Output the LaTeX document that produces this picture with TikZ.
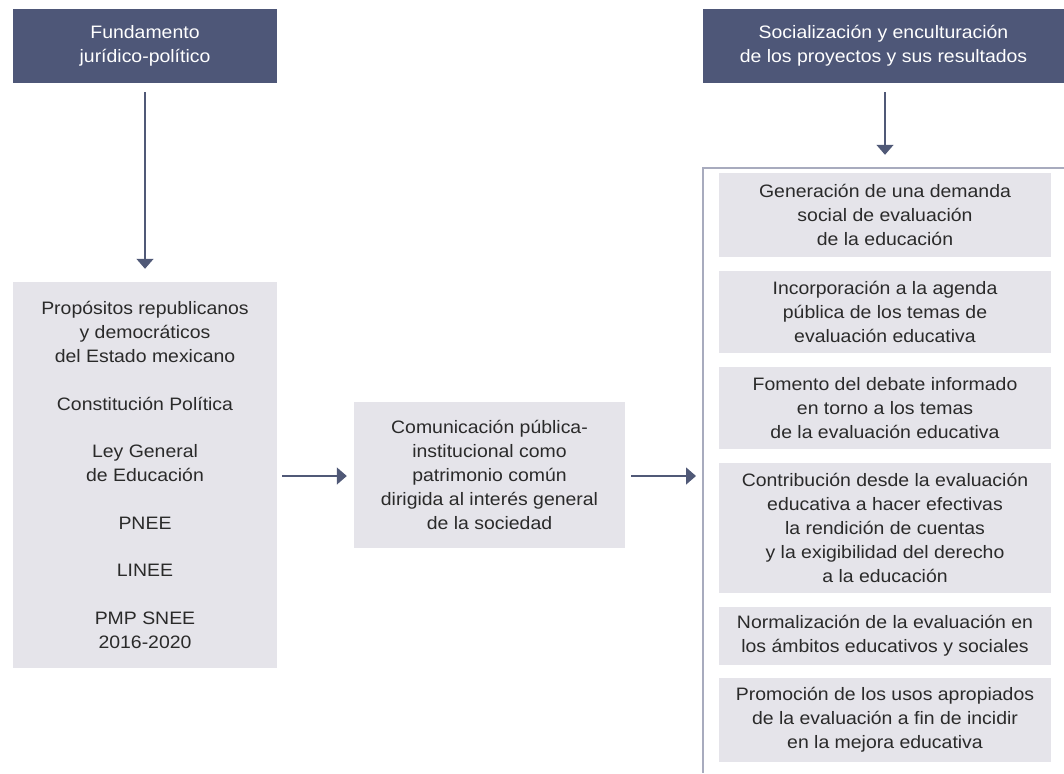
\documentclass[tikz,border=0pt]{standalone}
\usepackage{fontspec}
\setmainfont{Liberation Sans}[FakeStretch=1.08]
\usetikzlibrary{arrows.meta}
\definecolor{hdrcol}{HTML}{4E5778}
\definecolor{boxcol}{HTML}{E5E4EA}
\definecolor{linecol}{HTML}{505977}
\definecolor{brkcol}{HTML}{A8ABBE}
\definecolor{txtcol}{HTML}{2A2A2A}
\tikzset{
  base/.style={inner sep=0pt, align=center, font=\fontsize{18pt}{23.8pt}\selectfont},
  hdr/.style={base, fill=hdrcol, text=white},
  gbox/.style={base, fill=boxcol, text=txtcol},
  arr/.style={draw=linecol, line width=1.5pt, -{Triangle[width=17pt,length=10pt]}},
  brk/.style={draw=brkcol, line width=1.5pt}
}
\begin{document}
\begin{tikzpicture}[x=1pt,y=-1pt]
\useasboundingbox (0,0) rectangle (1064,773);
\node[hdr, minimum width=264pt, minimum height=74pt] (h1) at (145,46) {Fundamento\\jurídico-político};
\node[hdr, minimum width=361pt, minimum height=74pt] (h2) at (883.5,46) {Socialización y enculturación\\de los proyectos y sus resultados};
\node[gbox, minimum width=264pt, minimum height=386pt] (L) at (145,475) {Propósitos republicanos\\y democráticos\\del Estado mexicano\\[23.8pt]Constitución Política\\[23.8pt]Ley General\\de Educación\\[23.8pt]PNEE\\[23.8pt]LINEE\\[23.8pt]PMP SNEE\\2016-2020};
\node[gbox, minimum width=271pt, minimum height=146pt] (M) at (489.5,475) {Comunicación pública-\\institucional como\\patrimonio común\\dirigida al interés general\\de la sociedad};
\coordinate (bl) at (703,168);
\coordinate (br) at (1064,168);
\coordinate (bb) at (703,773);
\draw[brk] (br) -- (bl) -- (bb);
\node[gbox, minimum width=332pt, minimum height=84pt] (r1) at (885,215) {Generación de una demanda\\social de evaluación\\de la educación};
\node[gbox, minimum width=332pt, minimum height=82pt] (r2) at (885,312) {Incorporación a la agenda\\pública de los temas de\\evaluación educativa};
\node[gbox, minimum width=332pt, minimum height=82pt] (r3) at (885,408) {Fomento del debate informado\\en torno a los temas\\de la evaluación educativa};
\node[gbox, minimum width=332pt, minimum height=130pt] (r4) at (885,528) {Contribución desde la evaluación\\educativa a hacer efectivas\\la rendición de cuentas\\y la exigibilidad del derecho\\a la educación};
\node[gbox, minimum width=332pt, minimum height=58pt] (r5) at (885,636) {Normalización de la evaluación en\\los ámbitos educativos y sociales};
\node[gbox, minimum width=332pt, minimum height=84pt] (r6) at (885,720) {Promoción de los usos apropiados\\de la evaluación a fin de incidir\\en la mejora educativa};
\draw[arr] ([yshift=-9pt]h1.south) -- ([yshift=13pt]L.north);
\draw[arr] ([yshift=-9pt]h2.south -| 885,0) -- ([yshift=18pt]r1.north);
\draw[arr] ([xshift=5pt,yshift=-1pt]L.east) -- ([xshift=-7pt,yshift=-1pt]M.west);
\draw[arr] ([xshift=6pt,yshift=-1pt]M.east) -- ([xshift=-7pt,yshift=-1pt]M.east -| bl);
\end{tikzpicture}
\end{document}
